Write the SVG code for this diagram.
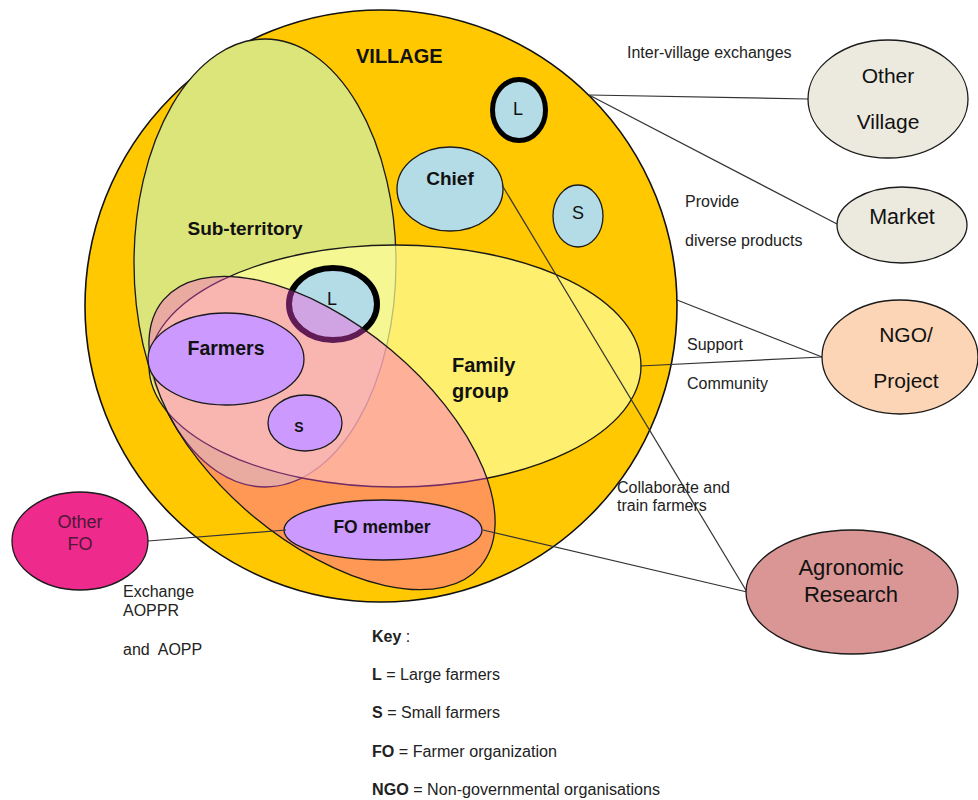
<svg xmlns="http://www.w3.org/2000/svg" width="978" height="800" viewBox="0 0 978 800">
<style>
.sk{stroke:#1a1a1a;stroke-width:1.3}
.b{font-family:"Liberation Sans",Arial,sans-serif;font-weight:bold;fill:#111}
.r{font-family:"Liberation Sans",Arial,sans-serif;fill:#111}
.lbl{font-family:"Liberation Sans",Arial,sans-serif;font-size:16px;fill:#222}
.c{text-anchor:middle}
.blue{fill:#B4DCE6}
.lav{fill:#CC99FF}
.conn line{stroke:#333;stroke-width:1.2}
</style>
<rect width="978" height="800" fill="#ffffff"/>

<g id="village">
<circle cx="381" cy="306" r="296" fill="#FFC800" stroke="#111" stroke-width="1.6"/>
<text class="b" x="356" y="63" font-size="20">VILLAGE</text>
</g>

<g id="sub-territory">
<ellipse cx="265" cy="263" rx="131" ry="224" fill="#DCE57A" class="sk"/>
<text class="b c" x="245" y="235" font-size="19">Sub-territory</text>
</g>

<g id="large-top">
<ellipse cx="519" cy="110" rx="26.5" ry="30.5" class="blue" stroke="#000" stroke-width="5"/>
<text class="r c" x="518" y="115" font-size="18">L</text>
</g>

<g id="chief">
<ellipse cx="450" cy="189" rx="53" ry="42" class="blue sk"/>
<text class="b c" x="450" y="185" font-size="19">Chief</text>
</g>

<g id="small-top">
<ellipse cx="578" cy="216" rx="25" ry="31" class="blue sk"/>
<text class="r c" x="578" y="219" font-size="18">S</text>
</g>

<g id="family-group">
<ellipse cx="395" cy="366" rx="246" ry="121" fill="#FFFF9D" fill-opacity="0.7" class="sk"/>
</g>

<g id="large-bottom">
<ellipse cx="333" cy="304" rx="44" ry="36" class="blue" stroke="#000" stroke-width="6"/>
<text class="r" x="327" y="305" font-size="18">L</text>
</g>

<g id="fo">
<ellipse cx="322" cy="433" rx="207" ry="108" transform="rotate(40 322 433)" fill="#FF4AE0" fill-opacity="0.38" class="sk"/>
</g>

<g id="family-label">
<text class="b" x="452" y="372" font-size="20">Family</text>
<text class="b" x="452" y="398" font-size="20">group</text>
</g>

<g id="farmers">
<ellipse cx="226" cy="359" rx="78" ry="46" class="lav sk"/>
<text class="b c" x="226" y="355" font-size="19.5">Farmers</text>
</g>

<g id="small-bottom">
<ellipse cx="305" cy="423" rx="37" ry="28" class="lav sk"/>
<text class="b c" x="299" y="432" font-size="14">S</text>
</g>

<g id="fo-member">
<ellipse cx="383" cy="530" rx="99" ry="30" class="lav sk"/>
<text class="b c" x="382" y="533" font-size="17.5">FO member</text>
</g>

<g id="connectors" class="conn">
<line x1="589" y1="95" x2="808" y2="99"/>
<line x1="589" y1="95" x2="837" y2="224"/>
<line x1="677" y1="300" x2="822" y2="357"/>
<line x1="640" y1="366" x2="822" y2="357"/>
<line x1="502" y1="185" x2="747" y2="592"/>
<line x1="483" y1="530" x2="747" y2="592"/>
<line x1="148" y1="541" x2="286" y2="530"/>
</g>

<g id="other-village">
<ellipse cx="888" cy="99" rx="80" ry="59" fill="#ECEADF" class="sk"/>
<text class="r c" x="888" y="83" font-size="21">Other</text>
<text class="r c" x="888" y="129" font-size="21">Village</text>
</g>

<g id="market">
<ellipse cx="902" cy="225" rx="65" ry="38" fill="#ECEADF" class="sk"/>
<text class="r c" x="902" y="224" font-size="21.5">Market</text>
</g>

<g id="ngo">
<ellipse cx="900" cy="357" rx="78" ry="57" fill="#FBD5B5" class="sk"/>
<text class="r c" x="906" y="342" font-size="21">NGO/</text>
<text class="r c" x="906" y="388" font-size="21">Project</text>
</g>

<g id="agronomic">
<ellipse cx="852" cy="592" rx="106" ry="62" fill="#D99694" class="sk"/>
<text class="r c" x="851" y="575" font-size="22">Agronomic</text>
<text class="r c" x="851" y="602" font-size="22">Research</text>
</g>

<g id="other-fo">
<ellipse cx="80" cy="541" rx="68" ry="49" fill="#EE2A8C" class="sk"/>
<text class="c" x="80" y="528" font-family="Liberation Sans, Arial, sans-serif" font-size="18" fill="#4E1838">Other</text>
<text class="c" x="80" y="550" font-family="Liberation Sans, Arial, sans-serif" font-size="18" fill="#4E1838">FO</text>
</g>

<g id="edge-labels">
<text class="lbl" x="627" y="58">Inter-village exchanges</text>
<text class="lbl" x="685" y="207">Provide</text>
<text class="lbl" x="685" y="246">diverse products</text>
<text class="lbl" x="687" y="350">Support</text>
<text class="lbl" x="687" y="389">Community</text>
<text class="lbl" x="617" y="493">Collaborate and</text>
<text class="lbl" x="617" y="511">train farmers</text>
<text class="lbl" x="123" y="597">Exchange</text>
<text class="lbl" x="123" y="616">AOPPR</text>
<text class="lbl" x="123" y="655" xml:space="preserve">and  AOPP</text>
</g>

<g id="key" font-family="Liberation Sans, Arial, sans-serif" font-size="16" fill="#222">
<text x="372" y="642"><tspan font-weight="bold">Key</tspan> :</text>
<text x="372" y="680" textLength="128" lengthAdjust="spacingAndGlyphs"><tspan font-weight="bold">L</tspan> = Large farmers</text>
<text x="372" y="718" textLength="128" lengthAdjust="spacingAndGlyphs"><tspan font-weight="bold">S</tspan> = Small farmers</text>
<text x="372" y="757" textLength="185" lengthAdjust="spacingAndGlyphs"><tspan font-weight="bold">FO</tspan> = Farmer organization</text>
<text x="372" y="795" textLength="288" lengthAdjust="spacingAndGlyphs"><tspan font-weight="bold">NGO</tspan> = Non-governmental organisations</text>
</g>
</svg>
